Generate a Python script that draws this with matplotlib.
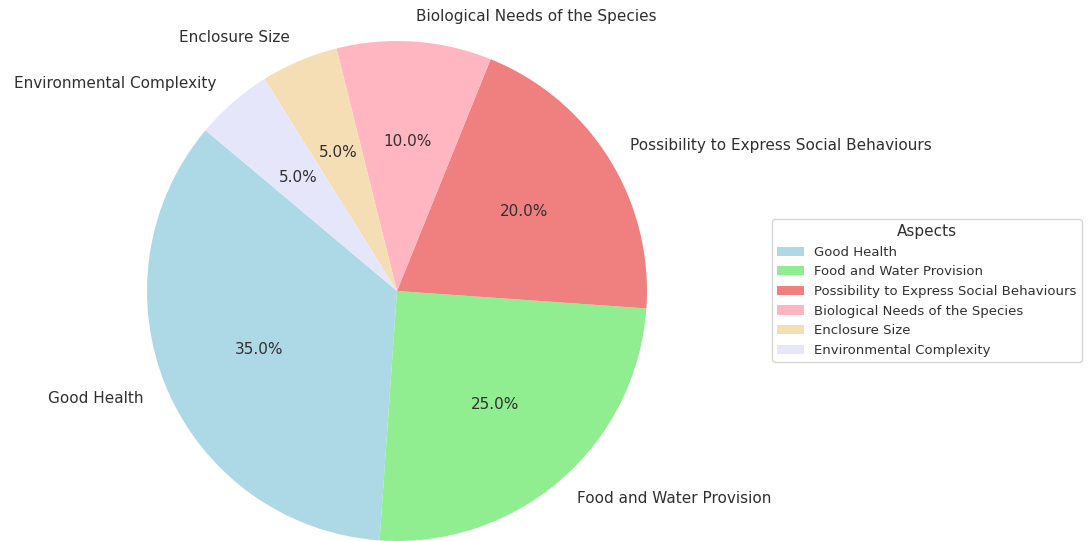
import matplotlib
matplotlib.use('Agg')
import matplotlib.pyplot as plt

# --- Aspects of animal welfare and their share ---
aspects = ['Good Health', 'Food and Water Provision', 'Possibility to Express Social Behaviours',
           'Biological Needs of the Species', 'Enclosure Size', 'Environmental Complexity']
shares = [35, 25, 20, 10, 5, 5]
colours = ['lightblue', 'lightgreen', 'lightcoral', 'lightpink', 'wheat', 'lavender']

plt.rcParams['text.color'] = '#303030'
plt.rcParams['font.family'] = 'DejaVu Sans'

fig = plt.figure(figsize=(10.88, 5.41), dpi=100)
ax = fig.add_axes([0, 0, 1, 1])

wedges, texts, autotexts = ax.pie(shares, labels=aspects, colors=colours, autopct='%1.1f%%',
                                  startangle=140, textprops={'fontsize': 11})

# keep one data unit = 250 px, centre of pie at (397, 291) from top-left
ax.set_xlim(-397 / 250, (1088 - 397) / 250)
ax.set_ylim(-250 / 250, 291 / 250)
ax.set_aspect('auto')
ax.axis('off')

leg = ax.legend(wedges, aspects, title='Aspects', loc='center left',
                bbox_to_anchor=(0.7035, 0.463), bbox_transform=fig.transFigure,
                fontsize=9.5, title_fontsize=11, frameon=True, fancybox=True)
leg.get_frame().set_edgecolor('#cccccc')

fig.savefig('out.png', dpi=100)
